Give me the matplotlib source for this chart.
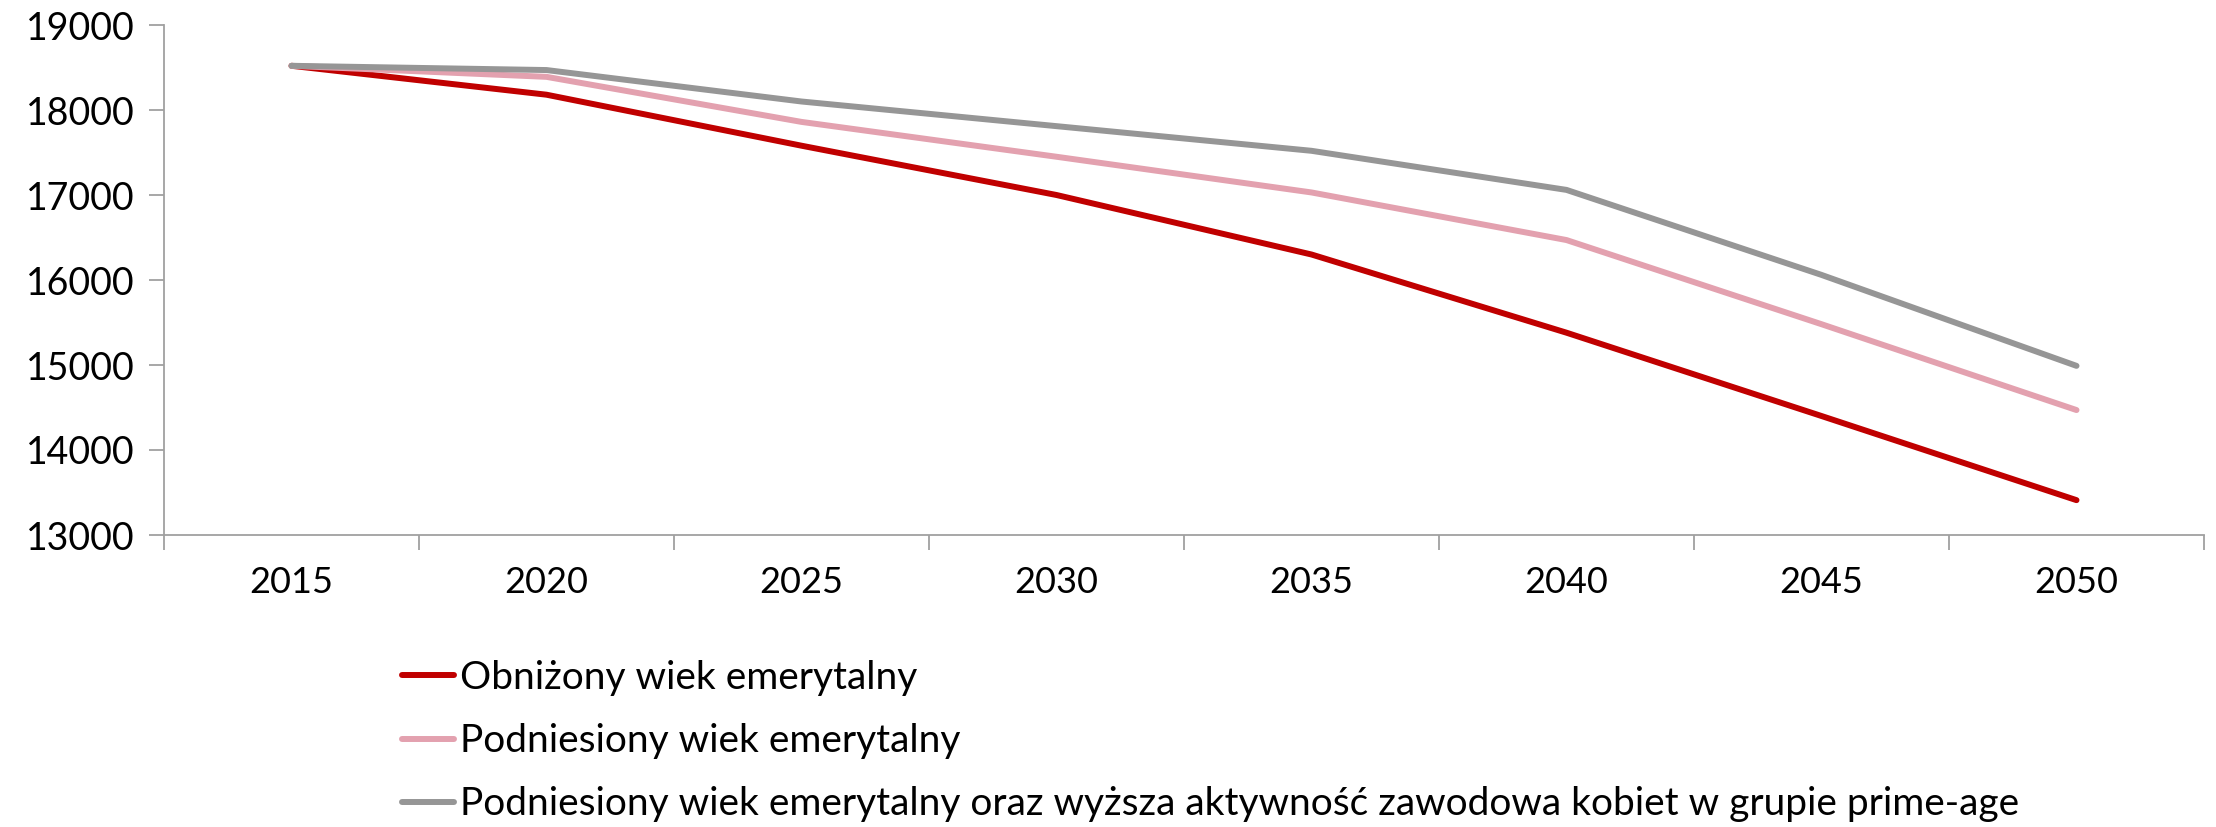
import matplotlib
matplotlib.use("Agg")
import matplotlib.pyplot as plt
from matplotlib.ticker import FixedLocator, NullFormatter

plt.rcParams['font.family'] = ['Lato', 'DejaVu Sans']

years = ["2015", "2020", "2025", "2030", "2035", "2040", "2045", "2050"]
obnizony = [18520, 18180, 17580, 17000, 16300, 15380, 14400, 13410]
podniesiony = [18520, 18390, 17860, 17450, 17030, 16470, 15480, 14470]
podniesiony_kobiety = [18520, 18470, 18100, 17810, 17520, 17060, 16060, 14990]

labels = ["Obniżony wiek emerytalny",
          "Podniesiony wiek emerytalny",
          "Podniesiony wiek emerytalny oraz wyższa aktywność zawodowa kobiet w grupie prime-age"]
colors = ["#C00000", "#E3A1AF", "#969696"]

fig = plt.figure(figsize=(22.16, 8.27), dpi=100)
ax = fig.add_axes([164 / 2216, 1 - 535 / 827, (2204 - 164) / 2216, (535 - 25) / 827])

x = range(len(years))
for vals, c, lab in zip([obnizony, podniesiony, podniesiony_kobiety], colors, labels):
    ax.plot(x, vals, color=c, lw=4.3, solid_capstyle="round", solid_joinstyle="round", label=lab)

ax.set_xlim(-0.5, len(years) - 0.5)
ax.set_ylim(13000, 19000)
ax.set_yticks(range(13000, 19001, 1000))
ax.set_xticks(list(x))
ax.set_xticklabels(years)
ax.xaxis.set_minor_locator(FixedLocator([i - 0.5 for i in range(len(years) + 1)]))
ax.xaxis.set_minor_formatter(NullFormatter())

for s in ["top", "right"]:
    ax.spines[s].set_visible(False)
for s in ["left", "bottom"]:
    ax.spines[s].set_color("#A0A0A0")
    ax.spines[s].set_linewidth(1.3)

ax.tick_params(axis="x", which="major", length=0, pad=22, labelsize=26, colors="#000000")
ax.tick_params(axis="x", which="minor", length=11, width=1.3, color="#A0A0A0")
ax.tick_params(axis="y", length=11, width=1.3, color="#A0A0A0", labelsize=27, pad=10)

fig.legend(loc="upper left", bbox_to_anchor=(402 / 2216, 1 - 660 / 827), frameon=False,
           fontsize=28, handlelength=1.34, handletextpad=0.15, labelspacing=0.7,
           borderaxespad=0, borderpad=0)

fig.savefig("out.png", dpi=100)
